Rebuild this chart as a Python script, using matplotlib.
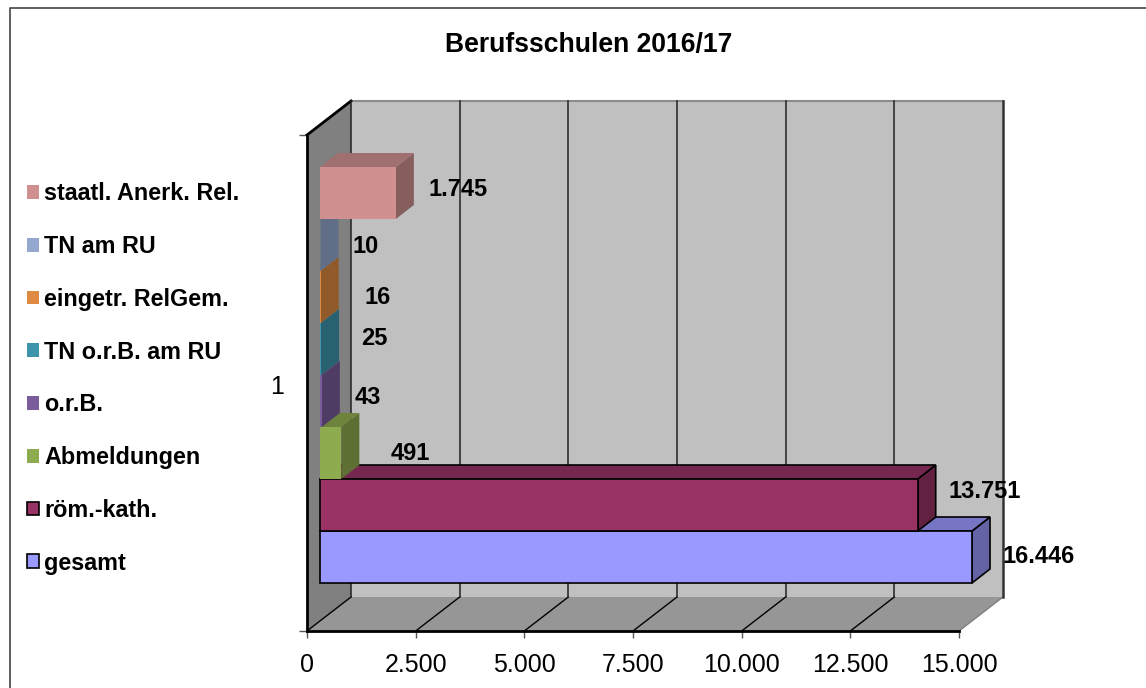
import matplotlib
matplotlib.use('Agg')
import matplotlib.pyplot as plt
from matplotlib.lines import Line2D
from matplotlib.patches import Patch, Polygon
from matplotlib.colors import to_rgb

plt.rcParams['font.family'] = ['Liberation Sans', 'DejaVu Sans']

# daten, von unten nach oben
kategorien = ['gesamt', 'röm.-kath.', 'Abmeldungen', 'o.r.B.', 'TN o.r.B. am RU',
              'eingetr. RelGem.', 'TN am RU', 'staatl. Anerk. Rel.']
werte = [16446, 13751, 491, 43, 25, 16, 10, 1745]
wert_texte = ['16.446', '13.751', '491', '43', '25', '16', '10', '1.745']
farben = ['#9999FF', '#993366', '#8FAB4F', '#7A5C9A', '#3E95AB', '#DE8A42', '#95A9D0', '#D09090']
x_ticks = [0, 2500, 5000, 7500, 10000, 12500, 15000]
x_tick_texte = ['0', '2.500', '5.000', '7.500', '10.000', '12.500', '15.000']
titel = 'Berufsschulen 2016/17'

# position der wert-texte in pixeln (linke kante, mitte)
text_pos = [(1003, 556.5), (948, 492), (391, 453.5), (355, 397.5), (361, 338.5), (364, 297.5), (352, 246.5), (429, 189.5)]

W, H = 1146, 688
fig = plt.figure(figsize=(W / 100, H / 100), dpi=100)
ax = fig.add_axes([307 / W, 1 - 631 / H, 652 / W, 496 / H])
ax.set_xlim(0, 15000)
ax.set_ylim(0, 1)
ax.patch.set_visible(False)

# umrechnung pixel -> daten
px_x = 15000 / 652
px_y = 1 / 496
tiefe_x, tiefe_y = 44 * px_x, 34 * px_y


def flaeche(punkte, farbe, kante='none', lw=0.0, z=1):
    ax.add_patch(Polygon(punkte, closed=True, facecolor=farbe, edgecolor=kante, linewidth=lw,
                         zorder=z, clip_on=False))


def dunkler(farbe, f):
    return tuple(c * f for c in to_rgb(farbe))


# waende und boden
flaeche([(tiefe_x, tiefe_y), (15000 + tiefe_x, tiefe_y), (15000 + tiefe_x, 1 + tiefe_y), (tiefe_x, 1 + tiefe_y)], '#C0C0C0')
flaeche([(0, 0), (tiefe_x, tiefe_y), (tiefe_x, 1 + tiefe_y), (0, 1)], '#808080')
flaeche([(0, 0), (15000, 0), (15000 + tiefe_x, tiefe_y), (tiefe_x, tiefe_y)], '#969696')
ax.plot([tiefe_x, 15000 + tiefe_x], [1 + tiefe_y, 1 + tiefe_y], color='#8C8C8C', lw=1.5, clip_on=False, zorder=2)
ax.plot([15000, 15000 + tiefe_x], [0, tiefe_y], color='#808080', lw=1, clip_on=False, zorder=2)
ax.plot([15000 + tiefe_x] * 2, [tiefe_y, 1 + tiefe_y], color='#333333', lw=1.8, clip_on=False, zorder=2)
ax.plot([0, tiefe_x], [1, 1 + tiefe_y], color='black', lw=2, clip_on=False, zorder=2)

# gitterlinien
for t in x_ticks[:-1]:
    ax.plot([t, t + tiefe_x], [0, tiefe_y], color='black', lw=1, clip_on=False, zorder=2)
    ax.plot([t + tiefe_x] * 2, [tiefe_y, 1 + tiefe_y], color='#222222', lw=1.1, clip_on=False, zorder=2)

# balken von unten nach oben, der obere deckt die oberseite des unteren ab
start_x = 13 * px_x
start_y = (631 - 583) * px_y
hoehe = 52 * px_y
bar_x, bar_y = 18 * px_x, 14 * px_y
for i in range(len(werte)):
    ende = start_x + min(werte[i], 15000)
    y0 = start_y + i * hoehe
    y1 = y0 + hoehe
    farbe = farben[i]
    if i < 2:
        kante, lw = 'black', 1.2
    else:
        kante, lw = 'none', 0
    flaeche([(ende, y0), (ende + bar_x, y0 + bar_y), (ende + bar_x, y1 + bar_y), (ende, y1)], dunkler(farbe, 0.65), kante, lw, 3)
    flaeche([(start_x, y1), (ende, y1), (ende + bar_x, y1 + bar_y), (start_x + bar_x, y1 + bar_y)], dunkler(farbe, 0.77), kante, lw, 3)
    flaeche([(start_x, y0), (ende, y0), (ende, y1), (start_x, y1)], farbe, kante, lw, 3)

for s in ['top', 'right']:
    ax.spines[s].set_visible(False)
for s in ['left', 'bottom']:
    ax.spines[s].set_linewidth(2)
    ax.spines[s].set_zorder(2.5)

ax.set_xticks(x_ticks, x_tick_texte, fontsize=18)
ax.tick_params(axis='x', length=5, width=1, color='#555555', pad=10.5, labelcolor='black')
ax.set_yticks([0, 1], ['', ''])
ax.tick_params(axis='y', length=6, width=1, color='#555555')
ax.set_yticks([0.496], ['1'], minor=True)
ax.tick_params(axis='y', which='minor', length=0, pad=16.5, labelsize=18)

for (px, py), txt in zip(text_pos, wert_texte):
    fig.text(px / W, 1 - py / H, txt, fontsize=17, fontweight='bold', ha='left', va='center', zorder=5)

fig.text(589 / W, 1 - 45 / H, titel, fontsize=19.1, fontweight='bold', ha='center', va='center')

# legende
griffe = []
for i in range(len(kategorien) - 1, -1, -1):
    griffe.append(Patch(facecolor=farben[i], edgecolor='black' if i < 2 else 'none',
                        linewidth=1.2, label=kategorien[i]))
fig.legend(handles=griffe, loc='upper left', bbox_to_anchor=(22.3 / W, 1 - 177.6 / H), frameon=False,
           prop={'size': 16.8, 'weight': 'bold'}, handlelength=0.52, handleheight=0.52,
           handletextpad=0.22, labelspacing=1.275, borderaxespad=0, borderpad=0.2)

# rahmen, nur links und oben sichtbar
fig.add_artist(Line2D([10 / W, 10 / W, 1], [0, 1 - 8 / H, 1 - 8 / H], color='#444444', lw=1.2))

fig.savefig('out.png', dpi=100)
